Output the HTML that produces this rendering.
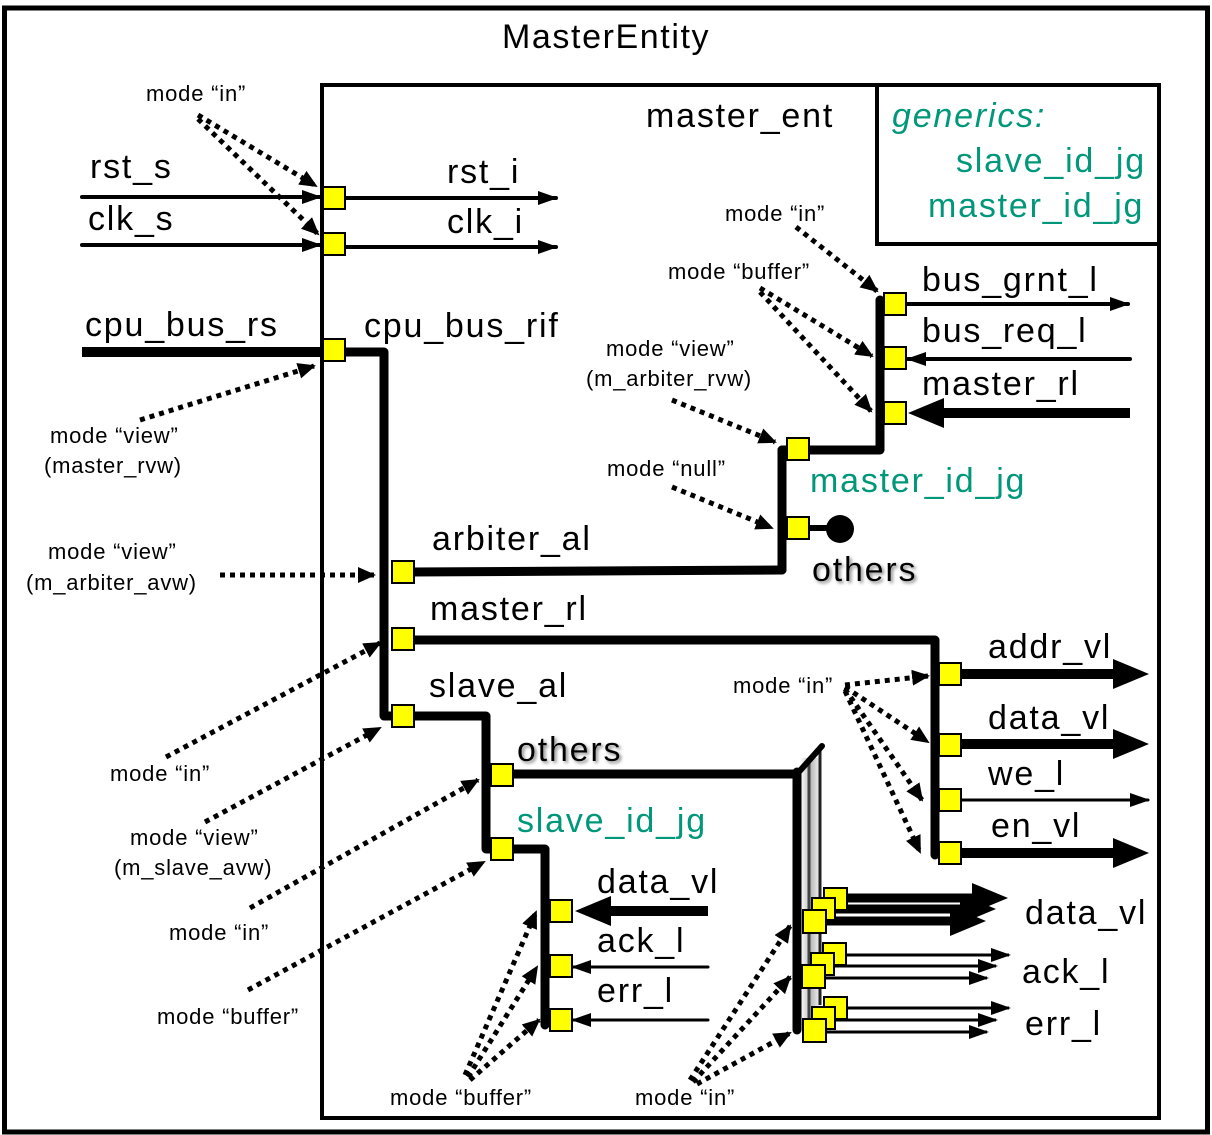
<!DOCTYPE html>
<html><head><meta charset="utf-8"><style>
html,body{margin:0;padding:0;background:#fff}
svg{display:block}
text{font-family:"Liberation Sans",Arial,sans-serif;fill:#000}
.b{font-size:34px;letter-spacing:1.8px}
.s{font-size:22px;letter-spacing:0.8px}
.g{fill:#00977a}
.sh{filter:url(#shd)}
</style></head><body>
<svg width="1212" height="1135" viewBox="0 0 1212 1135" xmlns="http://www.w3.org/2000/svg">
<defs>
<marker id="d" markerUnits="userSpaceOnUse" markerWidth="18" markerHeight="16" refX="16" refY="8" orient="auto"><path d="M0,0 L18,8 L0,16z" fill="#000"/></marker>
<marker id="t" markerUnits="userSpaceOnUse" markerWidth="20" markerHeight="16" refX="18" refY="8" orient="auto"><path d="M0,1 L20,8 L0,15z" fill="#000"/></marker>
<marker id="k" markerUnits="userSpaceOnUse" markerWidth="36" markerHeight="30" refX="3" refY="15" orient="auto"><path d="M0,0 L36,15 L0,30z" fill="#000"/></marker>
<filter id="shd" x="-10%" y="-10%" width="130%" height="140%"><feDropShadow dx="2" dy="2" stdDeviation="1.5" flood-color="#888"/></filter>
<linearGradient id="gr" x1="0" x2="1" y1="0" y2="0"><stop offset="0" stop-color="#fff"/><stop offset="0.5" stop-color="#bbb"/><stop offset="1" stop-color="#fff"/></linearGradient>
</defs>
<rect x="0" y="0" width="1212" height="1135" fill="#fff"/>
<rect x="4.5" y="8" width="1203" height="1124" fill="none" stroke="#000" stroke-width="5"/>
<rect x="322" y="85" width="837" height="1033" fill="none" stroke="#000" stroke-width="4"/>
<rect x="877" y="85" width="282" height="159" fill="none" stroke="#000" stroke-width="4"/>
<text x="502" y="48" style="font-size:34px;letter-spacing:1.6px">MasterEntity</text>
<text class="b" x="646" y="127">master_ent</text>
<text class="b g" x="892" y="127" font-style="italic">generics:</text>
<text class="b g" x="956" y="172">slave_id_jg</text>
<text class="b g" x="928" y="217">master_id_jg</text>

<g fill="none" stroke="#000" stroke-linejoin="round" stroke-linecap="round">
<line x1="82" y1="197" x2="320" y2="197" stroke-width="4" marker-end="url(#t)"/>
<line x1="82" y1="245" x2="320" y2="245" stroke-width="4" marker-end="url(#t)"/>
<line x1="344" y1="198" x2="556" y2="198" stroke-width="4" marker-end="url(#t)"/>
<line x1="344" y1="247" x2="556" y2="247" stroke-width="4" marker-end="url(#t)"/>
<line x1="82" y1="352" x2="322" y2="352" stroke-width="10" stroke-linecap="butt"/>
<polyline points="344,352 384,352 384,716 486,716 486,849 545,849 545,1025" stroke-width="9"/>
<line x1="412" y1="572" x2="782" y2="570" stroke-width="9"/>
<polyline points="782,570 782,450 880,450 880,300" stroke-width="9"/>
<line x1="782" y1="450" x2="782" y2="535" stroke-width="9"/>
<polyline points="412,640 935,640 935,855" stroke-width="9"/>
<line x1="512" y1="774" x2="800" y2="774" stroke-width="9"/>
<line x1="808" y1="528" x2="840" y2="528" stroke-width="6"/>
<line x1="906" y1="304" x2="1128" y2="304" stroke-width="4" marker-end="url(#t)"/>
<line x1="1130" y1="359" x2="908" y2="359" stroke-width="4" marker-end="url(#t)"/>
<line x1="1130" y1="413" x2="941" y2="413" stroke-width="10" stroke-linecap="butt" marker-end="url(#k)"/>
<line x1="960" y1="674" x2="1116" y2="674" stroke-width="10" stroke-linecap="butt" marker-end="url(#k)"/>
<line x1="960" y1="744" x2="1116" y2="744" stroke-width="10" stroke-linecap="butt" marker-end="url(#k)"/>
<line x1="960" y1="800" x2="1148" y2="800" stroke-width="3" marker-end="url(#t)"/>
<line x1="960" y1="853" x2="1116" y2="853" stroke-width="10" stroke-linecap="butt" marker-end="url(#k)"/>
<line x1="708" y1="911" x2="608" y2="911" stroke-width="10" stroke-linecap="butt" marker-end="url(#k)"/>
<line x1="708" y1="967" x2="573" y2="967" stroke-width="3" marker-end="url(#t)"/>
<line x1="708" y1="1020" x2="573" y2="1020" stroke-width="3" marker-end="url(#t)"/>
</g>
<circle cx="840" cy="529" r="14" fill="#000"/>

<rect x="800" y="758" width="22" height="270" fill="url(#gr)"/>
<line x1="809" y1="760" x2="809" y2="1020" stroke="#444" stroke-width="3"/>
<line x1="820" y1="748" x2="820" y2="1005" stroke="#222" stroke-width="3"/>
<line x1="797" y1="774" x2="822" y2="746" stroke="#000" stroke-width="6" stroke-linecap="round"/>
<line x1="797" y1="772" x2="797" y2="1030" stroke="#000" stroke-width="9" stroke-linecap="round"/>
<g stroke="#000" fill="none">
<line x1="846" y1="898" x2="975" y2="898" stroke-width="9" marker-end="url(#k)"/>
<line x1="834" y1="909" x2="963" y2="909" stroke-width="9" marker-end="url(#k)"/>
<line x1="824" y1="921" x2="953" y2="921" stroke-width="9" marker-end="url(#k)"/>
<line x1="846" y1="955" x2="1009" y2="955" stroke-width="3" marker-end="url(#t)"/>
<line x1="834" y1="966" x2="996" y2="966" stroke-width="3" marker-end="url(#t)"/>
<line x1="824" y1="978" x2="987" y2="978" stroke-width="3" marker-end="url(#t)"/>
<line x1="846" y1="1008" x2="1009" y2="1008" stroke-width="3" marker-end="url(#t)"/>
<line x1="834" y1="1020" x2="996" y2="1020" stroke-width="3" marker-end="url(#t)"/>
<line x1="824" y1="1032" x2="987" y2="1032" stroke-width="3" marker-end="url(#t)"/>
</g>

<g fill="#ff0" stroke="#000" stroke-width="2">
<rect x="323" y="187" width="22" height="22"/>
<rect x="323" y="233" width="22" height="22"/>
<rect x="323" y="339" width="22" height="22"/>
<rect x="392" y="561" width="22" height="22"/>
<rect x="392" y="628" width="22" height="22"/>
<rect x="392" y="705" width="22" height="22"/>
<rect x="491" y="764" width="22" height="22"/>
<rect x="491" y="838" width="22" height="22"/>
<rect x="550" y="900" width="22" height="22"/>
<rect x="550" y="955" width="22" height="22"/>
<rect x="550" y="1009" width="22" height="22"/>
<rect x="787" y="438" width="22" height="22"/>
<rect x="787" y="517" width="22" height="22"/>
<rect x="884" y="293" width="22" height="22"/>
<rect x="884" y="347" width="22" height="22"/>
<rect x="884" y="402" width="22" height="22"/>
<rect x="939" y="663" width="22" height="22"/>
<rect x="939" y="734" width="22" height="22"/>
<rect x="939" y="789" width="22" height="22"/>
<rect x="939" y="842" width="22" height="22"/>
<rect x="824" y="888" width="23" height="22"/>
<rect x="812" y="898" width="23" height="22"/>
<rect x="803" y="910" width="23" height="23"/>
<rect x="823" y="943" width="23" height="22"/>
<rect x="811" y="953" width="23" height="22"/>
<rect x="802" y="965" width="23" height="23"/>
<rect x="824" y="997" width="23" height="22"/>
<rect x="812" y="1007" width="23" height="22"/>
<rect x="803" y="1019" width="23" height="23"/>
</g>

<g stroke="#000" stroke-width="5" stroke-dasharray="5 5" fill="none" marker-end="url(#d)">
<line x1="198" y1="115" x2="316" y2="186"/>
<line x1="198" y1="119" x2="318" y2="234"/>
<line x1="140" y1="420" x2="314" y2="366"/>
<line x1="220" y1="575" x2="374" y2="575"/>
<line x1="166" y1="757" x2="380" y2="643"/>
<line x1="205" y1="822" x2="380" y2="728"/>
<line x1="250" y1="908" x2="478" y2="780"/>
<line x1="248" y1="990" x2="484" y2="862"/>
<line x1="465" y1="1075" x2="536" y2="912"/>
<line x1="468" y1="1077" x2="537" y2="967"/>
<line x1="470" y1="1080" x2="539" y2="1020"/>
<line x1="690" y1="1080" x2="790" y2="926"/>
<line x1="693" y1="1082" x2="790" y2="977"/>
<line x1="697" y1="1084" x2="790" y2="1033"/>
<line x1="796" y1="227" x2="877" y2="291"/>
<line x1="760" y1="288" x2="872" y2="356"/>
<line x1="760" y1="292" x2="871" y2="411"/>
<line x1="672" y1="400" x2="775" y2="442"/>
<line x1="672" y1="487" x2="772" y2="528"/>
<line x1="845" y1="685" x2="928" y2="676"/>
<line x1="845" y1="687" x2="928" y2="742"/>
<line x1="845" y1="689" x2="922" y2="800"/>
<line x1="845" y1="691" x2="920" y2="852"/>
</g>

<text class="b" x="90" y="178">rst_s</text>
<text class="b" x="88" y="230">clk_s</text>
<text class="b" x="447" y="183">rst_i</text>
<text class="b" x="447" y="233">clk_i</text>
<text class="b" x="85" y="336">cpu_bus_rs</text>
<text class="b" x="364" y="337">cpu_bus_rif</text>
<text class="b" x="922" y="291">bus_grnt_l</text>
<text class="b" x="922" y="342">bus_req_l</text>
<text class="b" x="922" y="395">master_rl</text>
<text class="b g" x="810" y="492">master_id_jg</text>
<text class="b sh" x="812" y="581">others</text>
<text class="b" x="432" y="550">arbiter_al</text>
<text class="b" x="430" y="620">master_rl</text>
<text class="b" x="429" y="697">slave_al</text>
<text class="b sh" x="517" y="761">others</text>
<text class="b g" x="517" y="832">slave_id_jg</text>
<text class="b" x="988" y="658">addr_vl</text>
<text class="b" x="988" y="729">data_vl</text>
<text class="b" x="988" y="785">we_l</text>
<text class="b" x="991" y="837">en_vl</text>
<text class="b" x="597" y="893">data_vl</text>
<text class="b" x="597" y="952">ack_l</text>
<text class="b" x="597" y="1002">err_l</text>
<text class="b" x="1025" y="924">data_vl</text>
<text class="b" x="1022" y="983">ack_l</text>
<text class="b" x="1025" y="1035">err_l</text>

<text class="s" x="146" y="101">mode “in”</text>
<text class="s" x="50" y="443">mode “view”</text>
<text class="s" x="44" y="473">(master_rvw)</text>
<text class="s" x="48" y="559">mode “view”</text>
<text class="s" x="26" y="590">(m_arbiter_avw)</text>
<text class="s" x="110" y="781">mode “in”</text>
<text class="s" x="130" y="845">mode “view”</text>
<text class="s" x="114" y="875">(m_slave_avw)</text>
<text class="s" x="169" y="940">mode “in”</text>
<text class="s" x="157" y="1024">mode “buffer”</text>
<text class="s" x="390" y="1105">mode “buffer”</text>
<text class="s" x="635" y="1105">mode “in”</text>
<text class="s" x="725" y="221">mode “in”</text>
<text class="s" x="668" y="279">mode “buffer”</text>
<text class="s" x="606" y="356">mode “view”</text>
<text class="s" x="586" y="386">(m_arbiter_rvw)</text>
<text class="s" x="607" y="476">mode “null”</text>
<text class="s" x="733" y="693">mode “in”</text>
</svg>
</body></html>
